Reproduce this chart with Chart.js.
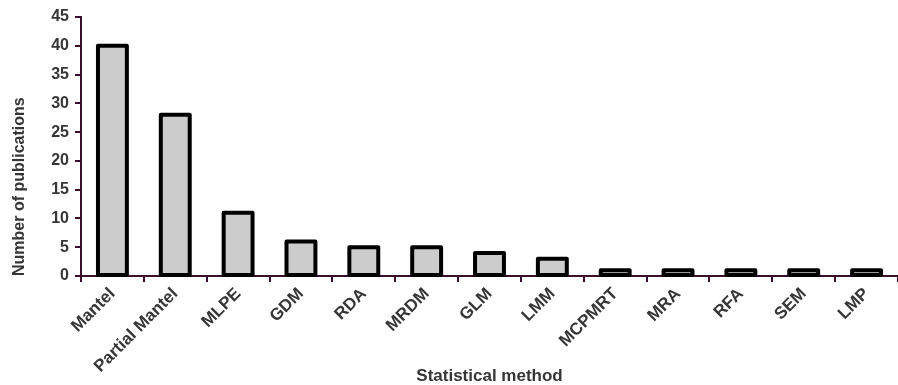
<!DOCTYPE html>
<html>
<head>
<meta charset="utf-8">
<script src="https://cdn.jsdelivr.net/npm/chart.js@4"></script>
<style>
  html, body { margin: 0; padding: 0; background: #ffffff; }
  #wrap { width: 898px; height: 385px; }
</style>
</head>
<body>
<div id="wrap"><canvas id="c" width="898" height="385"></canvas></div>
<script>
// Statistical methods used and how many publications applied each
const methods = ['Mantel', 'Partial Mantel', 'MLPE', 'GDM', 'RDA', 'MRDM', 'GLM', 'LMM', 'MCPMRT', 'MRA', 'RFA', 'SEM', 'LMP'];
const publications = [40, 28, 11, 6, 5, 5, 4, 3, 1, 1, 1, 1, 1];
const yTicks = [0, 5, 10, 15, 20, 25, 30, 35, 40, 45];

const axisColor = '#3a0f2e';
const textColor = '#363636';
const fontFamily = '"Liberation Sans", Arial, sans-serif';

// Outline each bar with a stroke centred on its edges
const barOutline = {
  id: 'barOutline',
  afterDatasetsDraw(chart) {
    const ctx = chart.ctx;
    ctx.save();
    ctx.strokeStyle = '#000000';
    ctx.lineWidth = 4;
    ctx.lineJoin = 'round';
    chart.getDatasetMeta(0).data.forEach(bar => {
      const p = bar.getProps(['x', 'y', 'base', 'width'], true);
      ctx.strokeRect(p.x - p.width / 2, p.y, p.width, p.base - p.y);
    });
    ctx.restore();
  }
};

new Chart(document.getElementById('c'), {
  type: 'bar',
  data: {
    labels: methods,
    datasets: [{
      data: publications,
      backgroundColor: '#cccccc',
      borderWidth: 0,
      categoryPercentage: 1,
      barPercentage: 0.46
    }]
  },
  plugins: [barOutline],
  options: {
    responsive: false,
    animation: false,
    devicePixelRatio: 1,
    layout: { padding: { top: 17, right: -5, left: 10, bottom: 0 } },
    plugins: { legend: { display: false }, tooltip: { enabled: false } },
    scales: {
      x: {
        offset: true,
        afterFit: (axis) => { axis.height = 109; },
        grid: { offset: true, drawOnChartArea: false, drawTicks: true, tickLength: 6, color: axisColor, lineWidth: 2 },
        border: { display: true, color: axisColor, width: 2 },
        ticks: {
          color: textColor,
          font: { family: fontFamily, size: 17, weight: 'bold' },
          minRotation: 45,
          maxRotation: 45,
          autoSkip: false,
          padding: 2
        },
        title: {
          display: true,
          text: 'Statistical method',
          color: textColor,
          font: { family: fontFamily, size: 17, weight: 'bold', lineHeight: 1.0 },
          padding: { top: 4, bottom: 0 }
        }
      },
      y: {
        min: 0,
        max: 45,
        afterBuildTicks: (axis) => { axis.ticks = yTicks.map(v => ({ value: v })); },
        grid: { drawOnChartArea: false, drawTicks: true, tickLength: 6, color: axisColor, lineWidth: 2 },
        border: { display: true, color: axisColor, width: 2 },
        ticks: {
          color: textColor,
          font: { family: fontFamily, size: 16, weight: 'bold' },
          padding: 6
        },
        title: {
          display: true,
          text: 'Number of publications',
          align: 'start',
          color: textColor,
          font: { family: fontFamily, size: 16, weight: 'bold' },
          padding: { top: 0, bottom: 16 }
        }
      }
    }
  }
});
</script>
</body>
</html>
